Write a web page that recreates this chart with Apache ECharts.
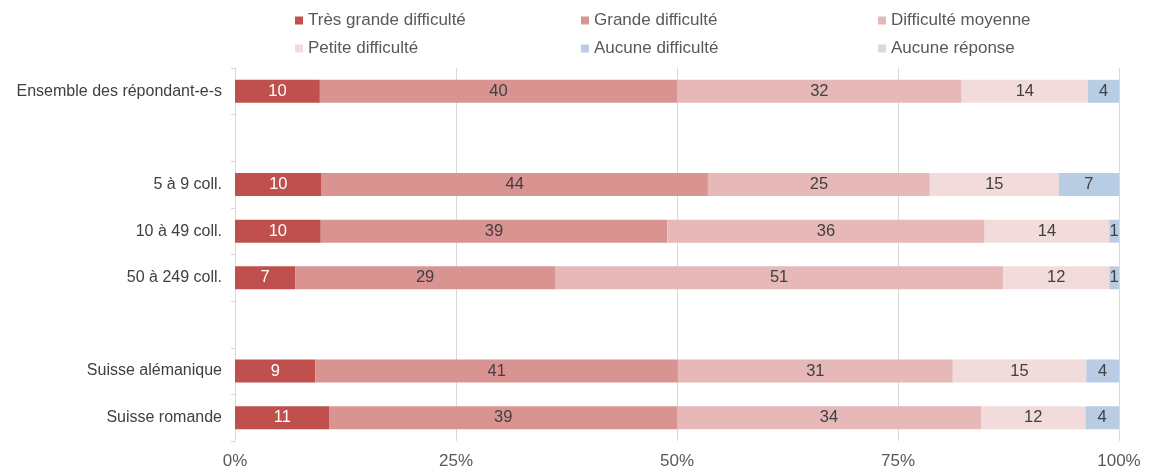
<!DOCTYPE html>
<html>
<head>
<meta charset="utf-8">
<script src="https://cdn.jsdelivr.net/npm/echarts@6/dist/echarts.min.js"></script>
<style>html,body{margin:0;padding:0;background:#fff}#c{width:1161px;height:470px}</style>
</head>
<body>
<div id="c"></div>
<script>
var categories = ['Ensemble des répondant-e-s', ' ', '5 à 9 coll.', '10 à 49 coll.', '50 à 249 coll.', '  ', 'Suisse alémanique', 'Suisse romande'];
var seriesNames = ['Très grande difficulté', 'Grande difficulté', 'Difficulté moyenne', 'Petite difficulté', 'Aucune difficulté', 'Aucune réponse'];
var tresGrande = [9.6, null, 9.8, 9.7, 6.8, null, 9.1, 10.7];
var grande     = [40.4, null, 43.7, 39.2, 29.4, null, 41.0, 39.3];
var moyenne    = [32.2, null, 25.1, 35.9, 50.7, null, 31.1, 34.4];
var petite     = [14.3, null, 14.6, 14.1, 12.0, null, 15.1, 11.8];
var aucune     = [3.5, null, 6.8, 1.1, 1.1, null, 3.7, 3.8];
var aucuneRep  = [0, null, 0, 0, 0, null, 0, 0];
var xTicks = [0, 25, 50, 75, 100];

var colors = ['#c0504d', '#d99492', '#e6b8b7', '#f2dcdb', '#b8cce4', '#d9d9d9'];
var labelColors = ['#ffffff', '#404040', '#404040', '#404040', '#404040', '#404040'];
var values = [tresGrande, grande, moyenne, petite, aucune, aucuneRep];
var FONT = 'Liberation Sans, Arial, sans-serif';

var series = seriesNames.map(function (n, i) {
  return {
    name: n,
    type: 'bar',
    stack: 'total',
    barWidth: 23,
    data: values[i],
    itemStyle: { color: colors[i] },
    label: {
      show: true,
      position: 'inside',
      color: labelColors[i],
      fontSize: 16.5,
      fontFamily: FONT,
      formatter: function (p) {
        if (p.value == null || p.value === 0) return '';
        return Math.round(p.value);
      }
    }
  };
});

var legendText = { color: '#595959', fontSize: 17, fontFamily: FONT };
function mkLegend(left, data) {
  return {
    left: left, top: 12, orient: 'vertical', itemGap: 11,
    icon: 'rect', itemWidth: 8, itemHeight: 8,
    textStyle: legendText, data: data, selectedMode: false, padding: 0
  };
}

var chart = echarts.init(document.getElementById('c'));
chart.setOption({
  animation: false,
  color: colors,
  legend: [
    mkLegend(295, [seriesNames[0], seriesNames[3]]),
    mkLegend(581, [seriesNames[1], seriesNames[4]]),
    mkLegend(878, [seriesNames[2], seriesNames[5]])
  ],
  grid: { left: 235, right: 42, top: 68, bottom: 27, containLabel: false },
  xAxis: {
    type: 'value', min: xTicks[0], max: xTicks[xTicks.length - 1], interval: 25,
    axisLine: { show: false }, axisTick: { show: false },
    splitLine: { show: true, lineStyle: { color: '#d9d9d9', width: 1 } },
    axisLabel: {
      formatter: '{value}%', color: '#595959', fontSize: 17, margin: 12,
      fontFamily: FONT
    }
  },
  yAxis: {
    type: 'category', data: categories, inverse: true,
    axisLine: { show: true, lineStyle: { color: '#d9d9d9' } },
    axisTick: { show: true, length: 4, lineStyle: { color: '#d9d9d9' } },
    axisLabel: {
      color: '#404040', fontSize: 16, margin: 13,
      fontFamily: FONT
    }
  },
  series: series
});
</script>
</body>
</html>
